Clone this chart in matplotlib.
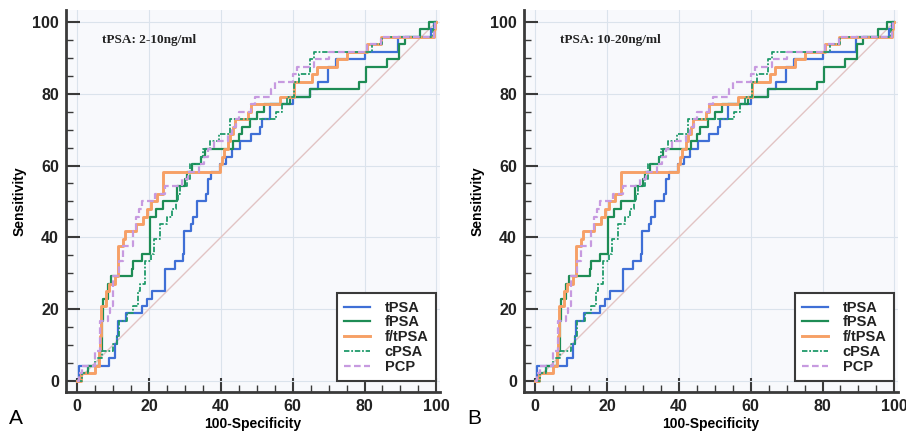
import matplotlib

matplotlib.use("Agg")

import matplotlib.pyplot as plt
from matplotlib.ticker import MultipleLocator

# ROC step curves: (100-specificity, sensitivity) corner points
TPSA_X = [0, 0.5, 9, 10.5, 11, 11.5, 13.5, 18, 19.5, 21, 24.5, 27.3, 29.4, 29.7, 31.6, 32.3, 33.3, 36, 36.5,
          37.4, 39.8, 41.5, 43, 45.4, 48.4, 51, 51.5, 53.6, 60, 64.8, 67, 69.9, 72, 80, 89.3, 98.5, 99.3, 100]
TPSA_Y = [0, 4.2, 6.3, 10.4, 12.5, 16.7, 18.8, 20.8, 22.9, 25.0, 31.3, 33.3, 35.4, 41.7, 43.8, 45.8, 50.0, 52.1, 56.3,
          58.3, 60.4, 62.5, 64.6, 66.7, 68.8, 70.8, 72.9, 77.1, 79.2, 81.3, 83.3, 87.5, 89.6, 91.7, 95.8, 97.9, 100, 100]

FPSA_X = [0, 1, 3, 6, 6.5, 7, 7.3, 8.6, 9.5, 15.2, 15.5, 18, 20.3, 22, 24, 27.7, 30, 30.5, 32, 34.6, 35.5,
          43.5, 45, 46, 48, 50, 52, 59.3, 64.8, 78.4, 80.3, 86.3, 89.6, 91.4, 95.5, 98, 100]
FPSA_Y = [0, 2.1, 4.2, 6.3, 8.3, 16.7, 22.9, 27.1, 29.2, 31.3, 33.3, 35.4, 45.8, 47.9, 50.0, 54.2, 56.3, 58.3, 60.4,
          62.5, 64.6, 66.7, 68.8, 70.8, 72.9, 75.0, 77.1, 79.2, 81.3, 83.3, 87.5, 89.6, 93.8, 95.8, 97.9, 100, 100]

FTPSA_X = [0, 1, 5, 6, 6.5, 6.8, 8, 9, 10.5, 11.4, 12.8, 13.3, 16.5, 18.5, 19.5, 20.5, 22.3, 23.8, 39.8, 40.3,
           41, 42, 42.5, 43.5, 44, 47.7, 48.5, 56.6, 60.3, 65.4, 66.8, 72.4, 75.2, 80.7, 84.5, 99.2, 99.6, 100]
FTPSA_Y = [0, 2.1, 4.2, 8.3, 12.5, 20.8, 25.0, 27.1, 29.2, 37.5, 39.6, 41.7, 43.8, 45.8, 47.9, 50.0, 52.1, 58.3,
           60.4, 62.5, 64.6, 66.7, 68.8, 70.8, 72.9, 75.0, 77.1, 79.2, 83.3, 85.4, 87.5, 89.6, 91.7, 93.8, 95.8,
           97.9, 100, 100]

CPSA_X = [0, 1.5, 3, 5, 7, 10, 11, 11.6, 14, 15.6, 17, 17.6, 19, 20.7, 21.5, 23, 25, 26.5, 27.5, 28.2, 28.6,
          30.5, 31.4, 34.5, 35, 37, 39.5, 42.6, 55.5, 57, 58.5, 60.3, 61.8, 64.8, 65.9, 82, 85, 99, 99.4, 100]
CPSA_Y = [0, 2.1, 4.2, 6.3, 8.3, 10.4, 12.5, 16.7, 18.8, 20.8, 25.0, 27.1, 33.3, 35.4, 39.6, 43.8, 45.8, 47.9,
          50.0, 52.1, 54.2, 56.3, 60.4, 62.5, 64.6, 66.7, 68.8, 72.9, 75.0, 77.1, 79.2, 83.3, 85.4, 89.6, 91.7,
          93.8, 95.8, 97.9, 100, 100]

PCP_X = [0, 0.5, 1.5, 4.9, 6.3, 8.6, 9.3, 9.9, 11.8, 12.8, 15.6, 16.5, 17.2, 18.2, 21.7, 24.5, 29.1, 31, 34,
         35.3, 36.5, 38, 42, 43, 44.3, 45, 48.3, 49.6, 54, 55.2, 60, 61.2, 66, 70, 80.7, 84.5, 99.2, 99.6, 100]
PCP_Y = [0, 2.1, 4.2, 8.3, 16.7, 18.8, 20.8, 29.2, 33.3, 37.5, 41.7, 45.8, 47.9, 50.0, 52.1, 54.2, 56.3, 58.3,
         60.4, 62.5, 64.6, 66.7, 68.8, 70.8, 72.9, 75.0, 77.1, 79.2, 81.3, 83.3, 85.4, 87.5, 89.6, 91.7, 93.8,
         95.8, 97.9, 100, 100]

SERIES = [
    ("tPSA", TPSA_X, TPSA_Y, "#3f6fd6", "-", 1.6),
    ("fPSA", FPSA_X, FPSA_Y, "#1e8c55", "-", 1.6),
    ("f/tPSA", FTPSA_X, FTPSA_Y, "#f6a066", "-", 2.1),
    ("cPSA", CPSA_X, CPSA_Y, "#1f9a6a", (0, (3, 1, 1, 1)), 1.3),
    ("PCP", PCP_X, PCP_Y, "#c79ae0", (0, (3, 1.5)), 1.6),
]

PANELS = [("A", "tPSA: 2-10ng/ml"), ("B", "tPSA: 10-20ng/ml")]

SANS = "Liberation Sans"
SERIF = "Liberation Serif"


def draw_panel(ax, title):
    ax.set_facecolor("#f8f9fc")
    ax.plot([0, 100], [0, 100], color="#e2c4c4", lw=1.0, zorder=1)
    for name, xs, ys, color, ls, lw in SERIES:
        ax.plot(xs, ys, drawstyle="steps-post", color=color, linestyle=ls, lw=lw, label=name, zorder=2)

    ax.set_xlim(-3.06, 101)
    ax.set_ylim(-3.06, 103.3)
    ax.xaxis.set_major_locator(MultipleLocator(20))
    ax.xaxis.set_minor_locator(MultipleLocator(5))
    ax.yaxis.set_major_locator(MultipleLocator(20))
    ax.yaxis.set_minor_locator(MultipleLocator(5))
    ax.grid(True, which="major", color="#dbe3ec", lw=0.8)
    ax.set_axisbelow(True)

    for side in ("top", "right"):
        ax.spines[side].set_visible(False)
    for side in ("left", "bottom"):
        ax.spines[side].set_linewidth(2.0)
        ax.spines[side].set_color("#3a3a3a")

    ax.tick_params(which="major", direction="in", length=10, width=1.5, color="#3a3a3a", pad=5)
    ax.tick_params(which="minor", direction="in", length=5, width=1.0, color="#3a3a3a")
    for lab in ax.get_xticklabels() + ax.get_yticklabels():
        lab.set_fontfamily(SANS)
        lab.set_fontweight("bold")
        lab.set_fontsize(11.5)
        lab.set_color("#222222")

    ax.set_xlabel("100-Specificity", fontfamily=SANS, fontweight="bold", fontsize=10, labelpad=2)
    ax.set_ylabel("Sensitivity", fontfamily=SANS, fontweight="bold", fontsize=10, labelpad=4)
    ax.text(7, 95, title, fontfamily=SERIF, fontweight="bold", fontsize=9.5, color="#222222", va="center")

    leg = ax.legend(loc="lower right", bbox_to_anchor=(0.989, 0.029), borderaxespad=0, fancybox=False,
                    prop={"family": SANS, "weight": "bold", "size": 10.5}, handlelength=1.8,
                    handletextpad=1.0, labelspacing=0.05, borderpad=0.5, framealpha=1)
    leg.get_frame().set_edgecolor("#3a3a3a")
    leg.get_frame().set_linewidth(1.5)
    leg.get_frame().set_facecolor("white")
    for t in leg.get_texts():
        t.set_color("#222222")


fig = plt.figure(figsize=(9.06, 4.33), dpi=100)
lefts = [66 / 906, 524 / 906]
for (letter, title), left in zip(PANELS, lefts):
    ax = fig.add_axes([left, 1 - 392 / 433, 374 / 906, 382 / 433])
    draw_panel(ax, title)
    fig.text(left - 50 / 906, 1 - 418 / 433, letter, fontfamily=SANS, fontsize=15, va="center", ha="center")

fig.savefig("out.png", dpi=100, facecolor="white")
